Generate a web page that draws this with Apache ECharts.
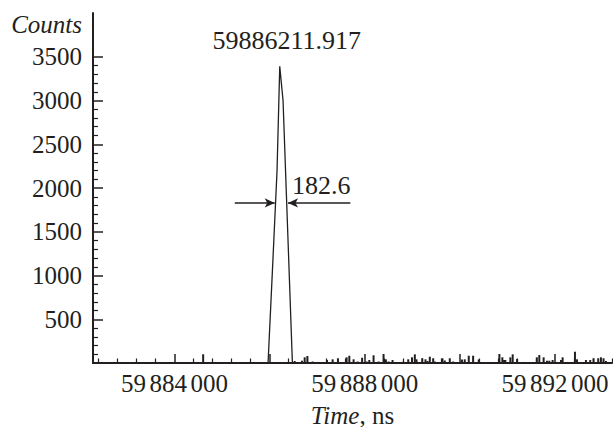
<!DOCTYPE html>
<html><head><meta charset="utf-8">
<script src="https://cdn.jsdelivr.net/npm/echarts@6/dist/echarts.min.js"></script>
<style>html,body{margin:0;padding:0;background:#fff}#c{width:613px;height:427px}</style>
</head><body><div id="c"></div>
<script>
// ---- data ----
const peakTimes  = [59885966, 59886071, 59886155, 59886212, 59886281, 59886478];
const peakCounts = [0, 1210, 2200, 3390, 3000, 0];

const noiseTimes = [59884601, 59886526, 59886680, 59886736, 59886793, 59886904, 59887009, 59887093,
  59887205, 59887324, 59887436, 59887618, 59887675, 59887765, 59887849, 59887944, 59888038, 59888095,
  59888185, 59888290, 59888395, 59888444, 59888500, 59888584, 59888809, 59888914, 59888994, 59889053,
  59889088, 59889208, 59889277, 59889319, 59889368, 59889439, 59889473, 59889634, 59889683, 59889788,
  59889859, 59890044, 59890103, 59890187, 59890279, 59890397, 59890831, 59890894, 59890930, 59890957,
  59891062, 59891111, 59891203, 59891356, 59891619, 59891671, 59891762, 59891833, 59891881, 59891951,
  59892127, 59892161, 59892266, 59892421, 59892463, 59892652, 59892742, 59892812, 59892910, 59892967,
  59893022, 59893072];
const noiseCounts = [100, 23, 26, 65, 80, 17, 12, 12,
  35, 42, 54, 65, 83, 42, 17, 60, 17, 34,
  88, 17, 103, 42, 17, 34, 15, 42, 65, 99,
  42, 54, 42, 23, 72, 54, 17, 54, 29, 54,
  17, 40, 42, 83, 83, 40, 103, 65, 34, 34,
  65, 99, 46, 12, 65, 91, 65, 26, 26, 34,
  34, 65, 12, 129, 42, 34, 34, 54, 54, 65,
  54, 23];

const xMin = 59882284, xMax = 59893200;
const xLabelValues = [59884000, 59888000, 59892000];
const xMajorTicks  = [59884000, 59886000, 59888000, 59890000, 59892000];
const xMinorStep = 400;
const yMin = 0, yMax = 4000;
const yLabelValues = [500, 1000, 1500, 2000, 2500, 3000, 3500];
const yMinorStep = 100;

const peakLabel = '59886211.917';
const peakLabelPos = [59886358, 3691];
const fwhmLabel = '182.6';
const fwhmLabelPos = [59887087, 2023];
const fwhmLevel = 1830;
const fwhmArrows = [[59885266, 59886106], [59887696, 59886386]];

// ---- build ----
const ink = '#231f20';
const serif = 'Liberation Serif';
const xMinorTicks = [];
for (let v = Math.ceil(xMin / xMinorStep) * xMinorStep; v <= xMax; v += xMinorStep) {
  if (!xMajorTicks.includes(v)) xMinorTicks.push(v);
}
const yMinorTicks = [];
for (let v = yMinorStep; v < 3500; v += yMinorStep) {
  if (v % 500 !== 0) yMinorTicks.push(v);
}
const fmtX = v => { const s = String(v); return s.slice(0, 2) + '{s| }' + s.slice(2, 5) + '{s| }' + s.slice(5); };

const chart = echarts.init(document.getElementById('c'), null, {renderer: 'svg'});
chart.setOption({
  animation: false,
  backgroundColor: '#fff',
  grid: {left: 93, right: 1, top: 13, bottom: 64, containLabel: false, outerBoundsMode: 'none'},
  xAxis: [{
    type: 'value', min: xMin, max: xMax, position: 'bottom',
    axisLine: {show: true, onZero: false, lineStyle: {color: ink, width: 2}},
    axisTick: {show: true, inside: true, length: 9, customValues: xMajorTicks, lineStyle: {color: ink, width: 1.5}},
    axisLabel: {show: true, customValues: xLabelValues, formatter: fmtX, fontFamily: serif, fontSize: 25, color: ink, margin: 8,
      hideOverlap: false, rich: {s: {fontFamily: serif, fontSize: 14, color: ink}}},
    splitLine: {show: false},
    name: '{i|Time}, ns', nameLocation: 'middle', nameGap: 42,
    nameTextStyle: {fontFamily: serif, fontSize: 25, lineHeight: 20, color: ink,
      rich: {i: {fontFamily: serif, fontStyle: 'italic', fontSize: 25, lineHeight: 20, color: ink}}}
  }, {
    type: 'value', min: xMin, max: xMax, position: 'bottom',
    axisLine: {show: false},
    axisTick: {show: true, inside: true, length: 4.5, customValues: xMinorTicks, lineStyle: {color: ink, width: 1.2}},
    axisLabel: {show: false}, splitLine: {show: false}
  }],
  yAxis: [{
    type: 'value', min: yMin, max: yMax, position: 'left',
    axisLine: {show: true, onZero: false, lineStyle: {color: ink, width: 2}},
    axisTick: {show: true, inside: true, length: 10, customValues: yLabelValues, lineStyle: {color: ink, width: 1.5}},
    axisLabel: {show: true, customValues: yLabelValues, formatter: v => String(v), fontFamily: serif, fontSize: 25, color: ink, margin: 11},
    splitLine: {show: false}
  }, {
    type: 'value', min: yMin, max: yMax, position: 'left',
    axisLine: {show: false},
    axisTick: {show: true, inside: true, length: 5, customValues: yMinorTicks, lineStyle: {color: ink, width: 1.2}},
    axisLabel: {show: false}, splitLine: {show: false}
  }],
  graphic: [{
    type: 'text', x: 82, y: 24,
    style: {text: 'Counts', fill: ink, font: 'italic 25px "Liberation Serif"', align: 'right', verticalAlign: 'middle'}
  }],
  series: [{
    type: 'bar', xAxisIndex: 0, yAxisIndex: 0,
    data: noiseTimes.map((t, i) => [t, noiseCounts[i]]),
    barWidth: 2, itemStyle: {color: ink}, silent: true
  }, {
    type: 'line', xAxisIndex: 0, yAxisIndex: 0,
    data: peakTimes.map((t, i) => [t, peakCounts[i]]),
    symbol: 'none', lineStyle: {color: ink, width: 1.3}, silent: true,
    markLine: {
      silent: true, symbol: ['none', 'arrow'], symbolSize: [7, 10],
      lineStyle: {color: ink, width: 1.5, type: 'solid'}, label: {show: false},
      data: fwhmArrows.map(a => [{coord: [a[0], fwhmLevel]}, {coord: [a[1], fwhmLevel]}])
    },
    markPoint: {
      silent: true, symbol: 'circle', symbolSize: 0,
      label: {show: true, position: 'inside', fontFamily: serif, color: ink},
      data: [
        {coord: peakLabelPos, label: {formatter: peakLabel, fontSize: 26}},
        {coord: fwhmLabelPos, label: {formatter: fwhmLabel, fontSize: 26}}
      ]
    }
  }]
});
</script></body></html>
